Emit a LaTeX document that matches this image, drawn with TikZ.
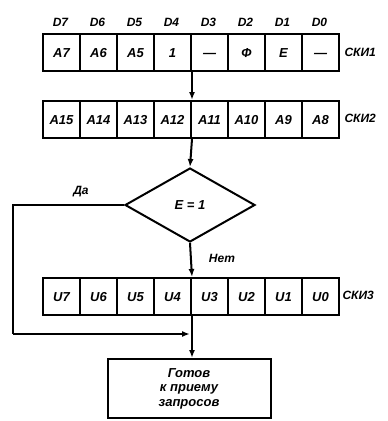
\documentclass[tikz,border=0pt]{standalone}
\usepackage{fontspec}
\setmainfont{Liberation Sans}
\usetikzlibrary{shapes.geometric,arrows.meta}
\begin{document}
\begin{tikzpicture}[x=1pt,y=-1pt,
  every node/.style={font=\itshape},
  cell/.style={draw,line width=2pt,minimum width=37pt,minimum height=37pt,inner sep=0pt,text height=9pt,text depth=0pt,anchor=north west,font=\bfseries\itshape\fontsize{13}{14}\selectfont},
  dlab/.style={font=\bfseries\itshape\fontsize{12}{13}\selectfont},
  rlab/.style={anchor=west,font=\bfseries\itshape\fontsize{12}{13}\selectfont},
  conn/.style={line width=2pt},
  arr/.style={conn,-{Latex[length=8pt,width=6pt]}},
  decision/.style={diamond,draw,line width=2pt,minimum width=130pt,minimum height=74pt,inner sep=0pt,font=\bfseries\itshape\fontsize{13}{14}\selectfont},
  endbox/.style={draw,line width=2pt,minimum width=163pt,minimum height=59pt,align=center,font=\bfseries\itshape\fontsize{13}{14.5}\selectfont}]
\useasboundingbox (0,0) rectangle (388,421);
% row 1
\foreach \t [count=\i] in {A7,A6,A5,1,---,Ф,E,---}
  \node[cell] (ra\i) at ({42+37*(\i-1)},33) {\t};
\foreach \t [count=\i] in {D7,D6,D5,D4,D3,D2,D1,D0}
  \node[dlab] (d\i) at ({42+37*(\i-1)+18.5},22) {\t};
\node[rlab] (ski1) at (341,52) {СКИ1};
% row 2
\foreach \t [count=\i] in {A15,A14,A13,A12,A11,A10,A9,A8}
  \node[cell] (rb\i) at ({42+37*(\i-1)},100) {\t};
\node[rlab] (ski2) at (341,118) {СКИ2};
% decision
\node[decision] (dia) at (190,205) {E = 1};
% row 3
\foreach \t [count=\i] in {U7,U6,U5,U4,U3,U2,U1,U0}
  \node[cell] (rc\i) at ({42+37*(\i-1)},277) {\t};
\node[rlab] (ski3) at (339,295) {СКИ3};
% end box
\node[endbox] (gotov) at (189,388.5) {Готов\\к приему\\запросов};
% connectors
\draw[arr] (ra4.south east) -- (rb4.north east);
\draw[arr] (rb4.south east) -- (dia.north);
\draw[arr] (dia.south) -- (rc4.north east);
\draw[arr] (rc4.south east) -- (gotov.north -| rc4.south east);
\coordinate (cl) at (13,334);
\coordinate (cj) at (190,334);
\draw[conn] (dia.west) -| (cl);
\draw[arr] (cl) -- (cj);
\node[dlab] (da) at (81,192) {Да};
\node[dlab] (net) at (222,258) {Нет};
\end{tikzpicture}
\end{document}
